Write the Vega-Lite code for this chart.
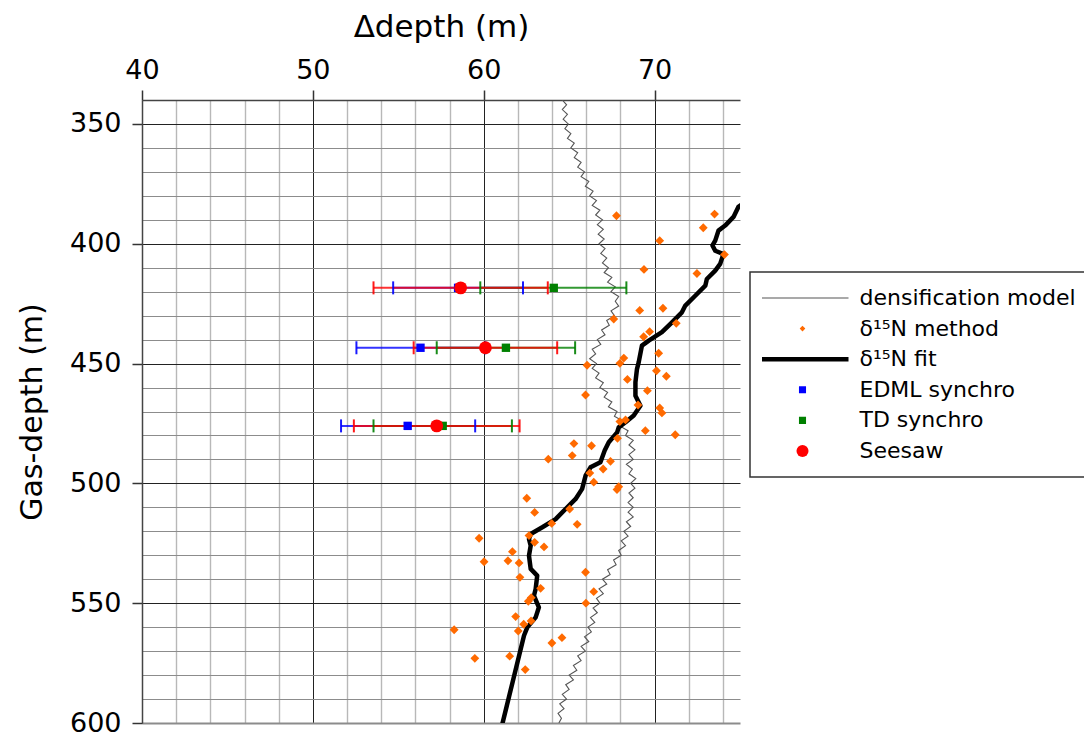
{
  "$schema": "https://vega.github.io/schema/vega-lite/v6.json",
  "width": 598,
  "height": 623,
  "autosize": {"type": "none"},
  "padding": {"left": 142, "top": 100, "right": 344, "bottom": 14},
  "background": "white",
  "config": {
    "font": "DejaVu Sans",
    "view": {"stroke": null},
    "axis": {"labelFont": "DejaVu Sans", "titleFont": "DejaVu Sans", "titleFontWeight": "normal", "labelColor": "#000", "titleColor": "#000"}
  },
  "datasets": {
    "eb": [
      {"series": "EDML synchro", "d": 418.4, "c": 58.5, "lo": 54.7, "hi": 62.3},
      {"series": "TD synchro", "d": 418.4, "c": 64.1, "lo": 59.8, "hi": 68.35},
      {"series": "Seesaw", "d": 418.4, "c": 58.65, "lo": 53.55, "hi": 63.75},
      {"series": "EDML synchro", "d": 443.4, "c": 56.3, "lo": 52.55, "hi": 60.1},
      {"series": "TD synchro", "d": 443.4, "c": 61.3, "lo": 57.25, "hi": 65.35},
      {"series": "Seesaw", "d": 443.4, "c": 60.1, "lo": 55.9, "hi": 64.3},
      {"series": "EDML synchro", "d": 476, "c": 55.55, "lo": 51.65, "hi": 59.5},
      {"series": "TD synchro", "d": 476, "c": 57.6, "lo": 53.55, "hi": 61.65},
      {"series": "Seesaw", "d": 476, "c": 57.25, "lo": 52.4, "hi": 62.1}
    ]
  },
  "layer": [
    {
      "data": {"values": [
        {"d":340,"x":64.6},{"d":342,"x":64.85},{"d":344,"x":64.6},{"d":346,"x":64.9},{"d":348,"x":64.65},{"d":350,"x":64.95},{"d":352,"x":64.75},{"d":354,"x":65.1},{"d":356,"x":64.9},{"d":358,"x":65.3},
        {"d":360,"x":65.1},{"d":362,"x":65.5},{"d":364,"x":65.3},{"d":366,"x":65.7},{"d":368,"x":65.5},{"d":370,"x":65.9},{"d":372,"x":65.7},{"d":374,"x":66.15},{"d":376,"x":65.95},{"d":378,"x":66.4},
        {"d":380,"x":66.2},{"d":382,"x":66.6},{"d":384,"x":66.35},{"d":386,"x":66.8},{"d":388,"x":66.55},{"d":390,"x":66.95},{"d":392,"x":66.65},{"d":394,"x":67.0},{"d":396,"x":66.7},{"d":398,"x":67.05},
        {"d":400,"x":66.75},{"d":402,"x":67.1},{"d":404,"x":66.85},{"d":406,"x":67.2},{"d":408,"x":66.95},{"d":410,"x":67.3},{"d":412,"x":67.05},{"d":414,"x":67.5},{"d":416,"x":67.25},{"d":418,"x":67.7},
        {"d":420,"x":67.45},{"d":422,"x":67.9},{"d":424,"x":67.7},{"d":426,"x":67.9},{"d":428,"x":67.45},{"d":430,"x":67.65},{"d":432,"x":67.2},{"d":434,"x":67.35},{"d":436,"x":66.9},{"d":438,"x":67.1},
        {"d":440,"x":66.65},{"d":442,"x":66.85},{"d":444,"x":66.35},{"d":446,"x":66.55},{"d":448,"x":66.2},{"d":450,"x":66.6},{"d":452,"x":66.35},{"d":454,"x":66.75},{"d":456,"x":66.55},{"d":458,"x":67.0},
        {"d":460,"x":66.8},{"d":462,"x":67.25},{"d":464,"x":67.05},{"d":466,"x":67.5},{"d":468,"x":67.3},{"d":470,"x":67.8},{"d":472,"x":67.65},{"d":474,"x":68.15},{"d":476,"x":67.95},{"d":478,"x":68.45},
        {"d":480,"x":68.3},{"d":482,"x":68.75},{"d":484,"x":68.5},{"d":486,"x":68.85},{"d":488,"x":68.5},{"d":490,"x":68.75},{"d":492,"x":68.35},{"d":494,"x":68.7},{"d":496,"x":68.5},{"d":498,"x":68.9},
        {"d":500,"x":68.6},{"d":502,"x":68.85},{"d":504,"x":68.5},{"d":506,"x":68.75},{"d":508,"x":68.45},{"d":510,"x":68.75},{"d":512,"x":68.45},{"d":514,"x":68.75},{"d":516,"x":68.35},{"d":518,"x":68.6},
        {"d":520,"x":68.2},{"d":522,"x":68.45},{"d":524,"x":68.05},{"d":526,"x":68.3},{"d":528,"x":67.9},{"d":530,"x":68.05},{"d":532,"x":67.6},{"d":534,"x":67.75},{"d":536,"x":67.25},{"d":538,"x":67.4},
        {"d":540,"x":66.95},{"d":542,"x":67.2},{"d":544,"x":66.75},{"d":546,"x":67.0},{"d":548,"x":66.6},{"d":550,"x":66.8},{"d":552,"x":66.4},{"d":554,"x":66.65},{"d":556,"x":66.25},{"d":558,"x":66.5},
        {"d":560,"x":66.1},{"d":562,"x":66.3},{"d":564,"x":65.9},{"d":566,"x":66.15},{"d":568,"x":65.7},{"d":570,"x":65.95},{"d":572,"x":65.5},{"d":574,"x":65.7},{"d":576,"x":65.25},{"d":578,"x":65.45},
        {"d":580,"x":65.0},{"d":582,"x":65.25},{"d":584,"x":64.8},{"d":586,"x":65.0},{"d":588,"x":64.6},{"d":590,"x":64.85},{"d":592,"x":64.45},{"d":594,"x":64.7},{"d":596,"x":64.35},{"d":598,"x":64.55},{"d":600,"x":64.4}
      ]},
      "mark": {"type": "line", "strokeWidth": 1.1, "clip": true},
      "encoding": {
        "x": {"field": "x", "type": "quantitative",
          "scale": {"domain": [40, 75], "nice": false, "zero": false},
          "axis": {
            "orient": "top", "title": "Δdepth (m)", "titleFontSize": 31, "titlePadding": 13,
            "values": [40,42,44,46,48,50,52,54,56,58,60,62,64,66,68,70,72,74],
            "tickCount": 100, "format": "d",
            "labelExpr": "datum.value % 10 === 0 ? datum.label : ''",
            "labelFontSize": 27, "labelPadding": 6, "labelFlush": false, "labelOverlap": false,
            "tickSize": 10, "tickWidth": 1.5, "tickColor": "#333",
            "tickOpacity": {"condition": {"test": "datum.value % 10 === 0", "value": 1}, "value": 0},
            "grid": true,
            "gridColor": {"condition": {"test": "datum.value % 10 === 0", "value": "#222222"}, "value": "#b8b8b8"},
            "gridWidth": {"condition": {"test": "datum.value % 10 === 0", "value": 1}, "value": 1.4},
            "domainColor": "#444", "domainWidth": 1.5
          }},
        "y": {"field": "d", "type": "quantitative",
          "scale": {"domain": [340, 600], "reverse": true, "nice": false, "zero": false},
          "axis": {
            "title": "Gas-depth (m)", "titleFontSize": 30, "titlePadding": 22,
            "values": [350,360,370,380,390,400,410,420,430,440,450,460,470,480,490,500,510,520,530,540,550,560,570,580,590,600],
            "tickCount": 100, "format": "d",
            "labelExpr": "datum.value % 50 === 0 ? datum.label : ''",
            "labelFontSize": 27, "labelPadding": 11, "labelOverlap": false, "labelFlush": false,
            "tickSize": 10, "tickWidth": 1.5, "tickColor": "#333",
            "tickOpacity": {"condition": {"test": "datum.value % 50 === 0", "value": 1}, "value": 0},
            "grid": true,
            "gridColor": {"condition": {"test": "datum.value % 50 === 0 && datum.value < 600", "value": "#222222"}, "value": "#8c8c8c"},
            "gridWidth": {"condition": {"test": "datum.value === 600", "value": 2}, "value": 1},
            "domainColor": "#444", "domainWidth": 1.5
          }},
        "order": {"field": "d", "type": "quantitative"},
        "color": {"datum": "densification model", "type": "nominal", "title": null,
          "scale": {"domain": ["densification model", "δ¹⁵N method", "δ¹⁵N fit", "EDML synchro", "TD synchro", "Seesaw"],
                    "range": ["#555555", "#ff6a00", "#000000", "#0000ff", "#008000", "#ff0000"]},
          "legend": {
            "orient": "none", "legendX": 608, "legendY": 172, "title": null, "columns": 1,
            "labelFont": "DejaVu Sans", "labelFontSize": 22, "labelColor": "#000", "labelLimit": 400,
            "padding": 12, "clipHeight": 28, "rowPadding": 2.6, "symbolOffset": 29.5, "labelOffset": 46,
            "strokeColor": "#333333", "fillColor": "#ffffff", "cornerRadius": 0,
            "encoding": {
              "legend": {"strokeWidth": {"value": 1.5}},
              "symbols": {
                "shape": {"value": {"expr": "datum.value === 'densification model' || datum.value === 'δ¹⁵N fit' ? 'M-4.6,0H4.6' : datum.value === 'δ¹⁵N method' ? 'diamond' : datum.value === 'Seesaw' ? 'circle' : 'square'"}},
                "size": {"value": {"expr": "datum.value === 'densification model' || datum.value === 'δ¹⁵N fit' ? 400 : datum.value === 'δ¹⁵N method' ? 32 : datum.value === 'Seesaw' ? 145 : 50"}},
                "strokeWidth": {"value": {"expr": "datum.value === 'densification model' ? 1.2 : datum.value === 'δ¹⁵N fit' ? 4.5 : 0"}},
                "stroke": {"value": {"expr": "datum.value === 'densification model' ? '#555555' : datum.value === 'δ¹⁵N fit' ? '#000000' : 'transparent'"}},
                "fill": {"value": {"expr": "datum.value === 'δ¹⁵N method' ? '#ff6a00' : datum.value === 'EDML synchro' ? '#0000ff' : datum.value === 'TD synchro' ? '#008000' : datum.value === 'Seesaw' ? '#ff0000' : 'transparent'"}},
                "opacity": {"value": 1}
              }
            }
          }
        }
      }
    },
    {
      "data": {"values": [
        {"d":382.5,"x":75.3},{"d":384.6,"x":74.91},{"d":388.8,"x":74.62},{"d":392.4,"x":74.13},{"d":394.5,"x":73.74},{"d":398.7,"x":73.55},{"d":400.7,"x":73.39},{"d":402.9,"x":73.55},{"d":404.3,"x":74.03},{"d":408.4,"x":73.84},
        {"d":411.2,"x":73.55},{"d":414.7,"x":73.06},{"d":417.5,"x":72.97},{"d":421.7,"x":72.38},{"d":425.8,"x":71.8},{"d":428.6,"x":71.6},{"d":432.8,"x":71.02},{"d":436.9,"x":70.43},{"d":440.4,"x":69.66},{"d":442.5,"x":69.26},
        {"d":449.5,"x":69.07},{"d":452.3,"x":68.97},{"d":457.8,"x":68.88},{"d":463.4,"x":68.88},{"d":467.6,"x":69.17},{"d":471.7,"x":68.78},{"d":474.5,"x":68.3},{"d":476.6,"x":67.9},{"d":478.7,"x":67.81},{"d":482.8,"x":67.32},
        {"d":486.3,"x":67.08},{"d":491.2,"x":66.83},{"d":493.3,"x":66.25},{"d":496.8,"x":65.96},{"d":502.3,"x":65.76},{"d":506.5,"x":65.38},{"d":510.7,"x":64.79},{"d":514.9,"x":64.21},{"d":518.3,"x":63.43},{"d":521.1,"x":62.75},
        {"d":523.2,"x":62.65},{"d":526.0,"x":62.75},{"d":530.2,"x":62.65},{"d":535.7,"x":62.75},{"d":538.5,"x":63.13},{"d":544.1,"x":63.04},{"d":546.9,"x":62.94},{"d":551.7,"x":63.23},{"d":555.9,"x":63.04},{"d":560.1,"x":62.55},
        {"d":563.5,"x":62.36},{"d":600.4,"x":61.09}
      ]},
      "mark": {"type": "line", "strokeWidth": 4.5, "clip": true, "strokeJoin": "round"},
      "encoding": {
        "x": {"field": "x", "type": "quantitative"},
        "y": {"field": "d", "type": "quantitative"},
        "order": {"field": "d", "type": "quantitative"},
        "color": {"datum": "δ¹⁵N fit", "type": "nominal", "title": null}
      }
    },
    {
      "data": {"values": [
        {"d":388.3,"x":67.77},{"d":387.6,"x":73.51},{"d":393.3,"x":72.85},{"d":398.7,"x":70.3},{"d":404.5,"x":74.09},{"d":410.7,"x":69.38},{"d":412.4,"x":72.48},{"d":427.8,"x":69.13},{"d":426.9,"x":70.49},{"d":431.4,"x":67.61},
        {"d":433.2,"x":71.27},{"d":436.7,"x":69.71},{"d":438.8,"x":69.36},{"d":445.7,"x":70.24},{"d":447.7,"x":68.2},{"d":449.9,"x":67.97},{"d":450.7,"x":66.05},{"d":453.0,"x":70.11},{"d":455.3,"x":70.69},{"d":456.6,"x":68.41},
        {"d":461.3,"x":69.58},{"d":463.1,"x":65.96},{"d":467.3,"x":69.03},{"d":468.5,"x":70.3},{"d":470.6,"x":70.43},{"d":474.2,"x":67.97},{"d":473.5,"x":68.3},{"d":478.0,"x":69.46},{"d":479.7,"x":71.21},{"d":481.2,"x":67.83},
        {"d":483.4,"x":65.28},{"d":484.3,"x":66.31},{"d":488.4,"x":65.18},{"d":489.9,"x":63.78},{"d":490.8,"x":67.42},{"d":494.0,"x":66.99},{"d":495.7,"x":66.21},{"d":499.5,"x":66.44},{"d":501.4,"x":67.9},{"d":502.6,"x":67.8},
        {"d":506.2,"x":62.52},{"d":512.1,"x":62.98},{"d":510.7,"x":65.03},{"d":516.7,"x":63.98},{"d":517.1,"x":65.47},{"d":521.8,"x":62.65},{"d":522.9,"x":59.73},{"d":524.6,"x":62.98},{"d":526.5,"x":63.53},{"d":528.5,"x":61.68},
        {"d":532.7,"x":60.02},{"d":532.3,"x":61.42},{"d":533.2,"x":62.07},{"d":537.1,"x":65.96},{"d":539.2,"x":62.12},{"d":543.8,"x":63.33},{"d":545.2,"x":66.44},{"d":547.7,"x":62.78},{"d":549.2,"x":62.61},{"d":550.0,"x":65.98},
        {"d":555.6,"x":61.87},{"d":558.8,"x":62.34},{"d":557.4,"x":62.77},{"d":561.1,"x":58.27},{"d":561.6,"x":62.02},{"d":566.6,"x":63.99},{"d":564.4,"x":64.58},{"d":573.0,"x":59.48},{"d":572.1,"x":61.52},{"d":577.7,"x":62.43}
      ]},
      "mark": {"type": "point", "shape": "diamond", "filled": true, "size": 78, "opacity": 1},
      "encoding": {
        "x": {"field": "x", "type": "quantitative"},
        "y": {"field": "d", "type": "quantitative"},
        "color": {"datum": "δ¹⁵N method", "type": "nominal", "title": null}
      }
    },
    {
      "data": {"name": "eb"},
      "mark": {"type": "rule", "strokeWidth": 2, "opacity": 0.8},
      "encoding": {
        "x": {"field": "lo", "type": "quantitative"},
        "x2": {"field": "hi"},
        "y": {"field": "d", "type": "quantitative"},
        "color": {"field": "series", "type": "nominal", "title": null}
      }
    },
    {
      "data": {"name": "eb"},
      "mark": {"type": "tick", "orient": "vertical", "size": 13, "thickness": 2, "opacity": 0.9},
      "encoding": {
        "x": {"field": "lo", "type": "quantitative"},
        "y": {"field": "d", "type": "quantitative"},
        "color": {"field": "series", "type": "nominal", "title": null}
      }
    },
    {
      "data": {"name": "eb"},
      "mark": {"type": "tick", "orient": "vertical", "size": 13, "thickness": 2, "opacity": 0.9},
      "encoding": {
        "x": {"field": "hi", "type": "quantitative"},
        "y": {"field": "d", "type": "quantitative"},
        "color": {"field": "series", "type": "nominal", "title": null}
      }
    },
    {
      "data": {"name": "eb"},
      "transform": [{"filter": "datum.series !== 'Seesaw'"}],
      "mark": {"type": "point", "shape": "square", "filled": true, "size": 70, "opacity": 1},
      "encoding": {
        "x": {"field": "c", "type": "quantitative"},
        "y": {"field": "d", "type": "quantitative"},
        "color": {"field": "series", "type": "nominal", "title": null}
      }
    },
    {
      "data": {"name": "eb"},
      "transform": [{"filter": "datum.series === 'Seesaw'"}],
      "mark": {"type": "point", "shape": "circle", "filled": true, "size": 165, "opacity": 1},
      "encoding": {
        "x": {"field": "c", "type": "quantitative"},
        "y": {"field": "d", "type": "quantitative"},
        "color": {"field": "series", "type": "nominal", "title": null}
      }
    }
  ]
}
